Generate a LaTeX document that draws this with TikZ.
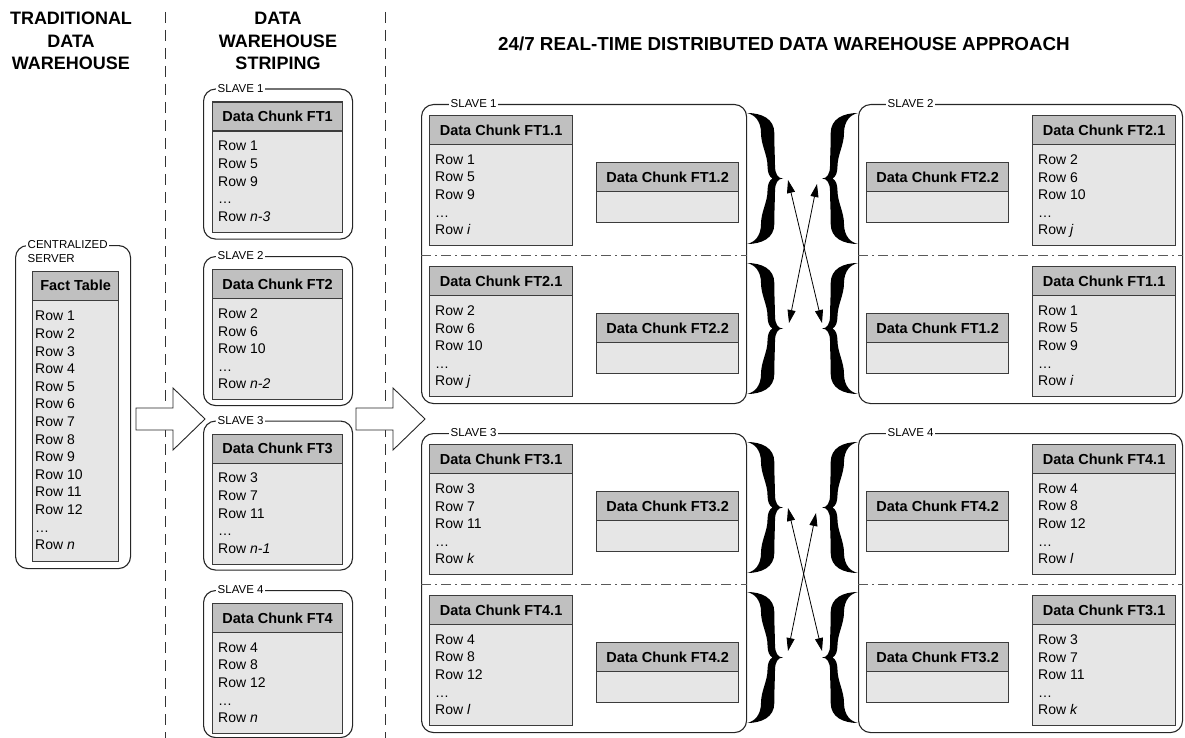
\documentclass[tikz,border=0pt]{standalone}
\usepackage{fontspec}
\setmainfont{Liberation Sans}
\usetikzlibrary{arrows.meta}

\definecolor{hdrgray}{RGB}{192,192,192}
\definecolor{bodygray}{RGB}{230,230,230}
\definecolor{edgegray}{RGB}{60,60,60}

\tikzset{
  chunkhead/.style={draw=edgegray, line width=1.2pt, fill=hdrgray, inner sep=0pt,
    anchor=north west, minimum height=29pt, font=\fontsize{14.5}{17}\selectfont\bfseries},
  chunkbody/.style={draw=edgegray, line width=1.2pt, fill=bodygray, inner sep=0pt, anchor=north west},
  rowtext/.style={inner sep=0pt, anchor=north west, align=left, font=\fontsize{14}{17.6}\selectfont},
  slavebox/.style={draw=black!85, line width=1.1pt, rounded corners=12pt, anchor=north west, inner sep=0pt},
  slavelabel/.style={fill=white, inner sep=1.5pt, anchor=west, font=\fontsize{11.5}{13}\selectfont},
  plainlabel/.style={inner sep=1.5pt, anchor=west, font=\fontsize{11.5}{13}\selectfont},
  heading/.style={align=center, inner sep=0pt, font=\fontsize{18}{22.5}\selectfont\bfseries},
  colsep/.style={draw=black!80, line width=0.9pt, dash pattern=on 11pt off 7pt},
  halfsep/.style={draw=black!65, line width=0.9pt, dash pattern=on 10pt off 4pt on 2pt off 4pt},
  fatarrow/.style={draw=black!85, line width=0.9pt, fill=white},
  swaparrow/.style={line width=0.8pt,
    {Triangle[length=13pt,width=8pt]}-{Triangle[length=13pt,width=8pt]}},
  rbrace/.pic={
    \fill[black] (0,0) .. controls (15,0) and (27.3,6) .. (27.3,20)
      .. controls (27.3,35) and (28,45) .. (28,53)
      .. controls (28,61) and (31,65.5) .. (36,65.5)
      .. controls (31,65.5) and (28,70) .. (28,78)
      .. controls (28,86) and (27.3,96) .. (27.3,111)
      .. controls (27.3,125) and (15,131) .. (0,131)
      .. controls (7.5,129.5) and (14,123) .. (14,111)
      .. controls (14,99) and (20.5,89) .. (20.5,78)
      .. controls (20.5,71) and (22.5,67) .. (25.5,65.5)
      .. controls (22.5,64) and (20.5,60) .. (20.5,53)
      .. controls (20.5,42) and (14,32) .. (14,20)
      .. controls (14,8) and (7.5,1.5) .. (0,0) -- cycle;
  }
}

% a data chunk: name, x, y (top), width, height, title, rows
\newcommand\chunk[7]{%
  \node[chunkbody, minimum width=#4, minimum height=#5] (#1) at (#2,#3) {};
  \node[chunkhead, minimum width=#4] (#1-h) at (#2,#3) {#6};
  \node[rowtext] (#1-r) at ([xshift=6pt, yshift=-39.5pt]#1.north west) {#7};
}
% a data chunk without rows: name, x, y (top), width, height, title
\newcommand\emptychunk[6]{%
  \node[chunkbody, minimum width=#4, minimum height=#5] (#1) at (#2,#3) {};
  \node[chunkhead, minimum width=#4] (#1-h) at (#2,#3) {#6};
}

\newcommand\rowsOne{Row 1\\Row 5\\Row 9\\…\\Row \textit{i}}
\newcommand\rowsTwo{Row 2\\Row 6\\Row 10\\…\\Row \textit{j}}
\newcommand\rowsThree{Row 3\\Row 7\\Row 11\\…\\Row \textit{k}}
\newcommand\rowsFour{Row 4\\Row 8\\Row 12\\…\\Row \textit{l}}

\begin{document}
\begin{tikzpicture}[x=1pt, y=-1pt]
\useasboundingbox (0,0) rectangle (1185,738);

% column headings
\node[heading] (hTrad) at (71,41) {TRADITIONAL\\DATA\\WAREHOUSE};
\node[heading] (hStripe) at (278,41) {DATA\\WAREHOUSE\\STRIPING};
\node[heading, font=\fontsize{18.8}{22.5}\selectfont\bfseries] (hReal) at (784,44)
  {24/7 REAL-TIME DISTRIBUTED DATA WAREHOUSE APPROACH};

% column separators
\draw[colsep] (165,12) -- (165,738);
\draw[colsep] (385,12) -- (385,738);

% centralized server
\node[slavebox, minimum width=115, minimum height=323] (cs) at (15,245) {};
\node[slavelabel] (csL) at (26,245) {CENTRALIZED};
\node[plainlabel] (csL2) at (26,258.5) {SERVER};
\node[chunkbody, minimum width=86, minimum height=290.5] (fact) at (32,270.5) {};
\node[chunkhead, minimum width=86] (fact-h) at (32,270.5) {Fact Table};
\node[rowtext] (fact-r) at ([xshift=3pt, yshift=-40.5pt]fact.north west)
  {Row 1\\Row 2\\Row 3\\Row 4\\Row 5\\Row 6\\Row 7\\Row 8\\Row 9\\Row 10\\Row 11\\Row 12\\…\\Row \textit{n}};

% striping
\node[slavebox, minimum width=149, minimum height=150] (m1) at (203,88.5) {};
\node[slavelabel] (m1L) at (216,88.5) {SLAVE 1};
\chunk{ft1}{212}{101.5}{130}{130}{Data Chunk FT1}{Row 1\\Row 5\\Row 9\\…\\Row \textit{n-3}}

\node[slavebox, minimum width=149, minimum height=149] (m2) at (203,256) {};
\node[slavelabel] (m2L) at (216,256) {SLAVE 2};
\chunk{ft2}{212}{269}{130}{130}{Data Chunk FT2}{Row 2\\Row 6\\Row 10\\…\\Row \textit{n-2}}

\node[slavebox, minimum width=149, minimum height=149] (m3) at (203,420.5) {};
\node[slavelabel] (m3L) at (216,420.5) {SLAVE 3};
\chunk{ft3}{212}{433.5}{130}{130}{Data Chunk FT3}{Row 3\\Row 7\\Row 11\\…\\Row \textit{n-1}}

\node[slavebox, minimum width=149, minimum height=147] (m4) at (203,590) {};
\node[slavelabel] (m4L) at (216,590) {SLAVE 4};
\chunk{ft4}{212}{603}{130}{130}{Data Chunk FT4}{Row 4\\Row 8\\Row 12\\…\\Row \textit{n}}

% block arrows
\draw[fatarrow] (136,408) -- (173,408) -- (173,388) -- (205,419) -- (173,450) -- (173,430) -- (136,430) -- cycle;
\draw[fatarrow] (356,408) -- (393,408) -- (393,388) -- (425,419) -- (393,450) -- (393,430) -- (356,430) -- cycle;

% real-time slaves
\node[slavebox, minimum width=325, minimum height=299] (s1) at (421,104) {};
\node[slavebox, minimum width=324, minimum height=299] (s2) at (858,104) {};
\node[slavebox, minimum width=325, minimum height=299] (s3) at (421,433) {};
\node[slavebox, minimum width=324, minimum height=299] (s4) at (858,433) {};
\node[slavelabel] (s1L) at (449,104) {SLAVE 1};
\node[slavelabel] (s2L) at (886,104) {SLAVE 2};
\node[slavelabel] (s3L) at (449,433) {SLAVE 3};
\node[slavelabel] (s4L) at (886,433) {SLAVE 4};

\draw[halfsep] (s1.west |- 0,255.5) -- (s1.east |- 0,255.5);
\draw[halfsep] (s2.west |- 0,255.5) -- (s2.east |- 0,255.5);
\draw[halfsep] (s3.west |- 0,584) -- (s3.east |- 0,584);
\draw[halfsep] (s4.west |- 0,584) -- (s4.east |- 0,584);

% slave 1
\chunk{a11}{429}{115}{143}{130}{Data Chunk FT1.1}{\rowsOne}
\emptychunk{a12}{596}{162}{142}{60}{Data Chunk FT1.2}
\chunk{a21}{429}{266}{143}{130}{Data Chunk FT2.1}{\rowsTwo}
\emptychunk{a22}{596}{313}{142}{60}{Data Chunk FT2.2}
% slave 2
\emptychunk{b22}{866}{162}{142}{60}{Data Chunk FT2.2}
\chunk{b21}{1032}{115}{143}{130}{Data Chunk FT2.1}{\rowsTwo}
\emptychunk{b12}{866}{313}{142}{60}{Data Chunk FT1.2}
\chunk{b11}{1032}{266}{143}{130}{Data Chunk FT1.1}{\rowsOne}
% slave 3
\chunk{c31}{429}{444}{143}{130}{Data Chunk FT3.1}{\rowsThree}
\emptychunk{c32}{596}{491}{142}{60}{Data Chunk FT3.2}
\chunk{c41}{429}{595}{143}{130}{Data Chunk FT4.1}{\rowsFour}
\emptychunk{c42}{596}{642}{142}{60}{Data Chunk FT4.2}
% slave 4
\emptychunk{d42}{866}{491}{142}{60}{Data Chunk FT4.2}
\chunk{d41}{1032}{444}{143}{130}{Data Chunk FT4.1}{\rowsFour}
\emptychunk{d32}{866}{642}{142}{60}{Data Chunk FT3.2}
\chunk{d31}{1032}{595}{143}{130}{Data Chunk FT3.1}{\rowsThree}

% braces between mirrored halves
\pic at (747,113) {rbrace};
\pic at (747,263) {rbrace};
\pic[xscale=-1] at (858,113) {rbrace};
\pic[xscale=-1] at (858,263) {rbrace};
\pic at (747,442) {rbrace};
\pic at (747,592) {rbrace};
\pic[xscale=-1] at (858,442) {rbrace};
\pic[xscale=-1] at (858,592) {rbrace};

% replication links
\coordinate (u1) at (788,180);
\coordinate (u2) at (822,323);
\coordinate (u3) at (817,184);
\coordinate (u4) at (789,323);
\coordinate (l1) at (788,508);
\coordinate (l2) at (822,651);
\coordinate (l3) at (816,513);
\coordinate (l4) at (788,651);
\draw[swaparrow] (u1) -- (u2);
\draw[swaparrow] (u3) -- (u4);
\draw[swaparrow] (l1) -- (l2);
\draw[swaparrow] (l3) -- (l4);
\end{tikzpicture}
\end{document}
